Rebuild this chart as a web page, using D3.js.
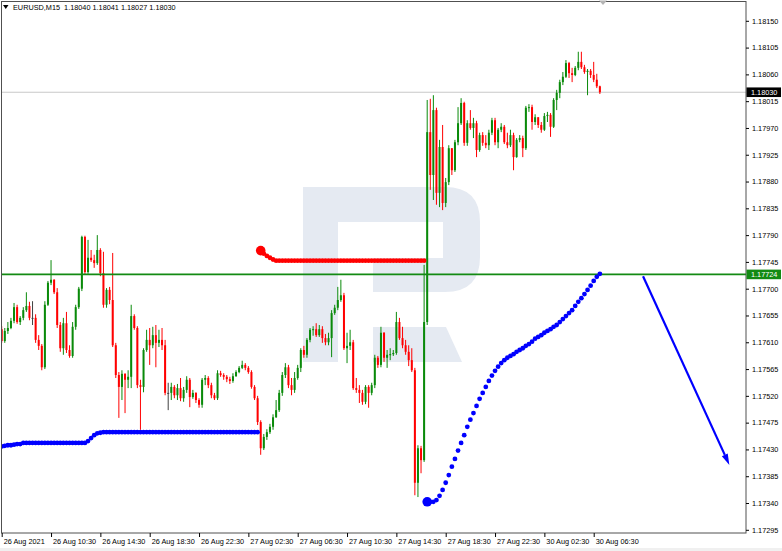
<!DOCTYPE html>
<html><head><meta charset="utf-8">
<script src="https://cdn.jsdelivr.net/npm/d3@7"></script>
<style>
html,body{margin:0;padding:0;background:#fff;}
svg{display:block;font-family:"Liberation Sans",Arial,sans-serif;}
</style></head><body>
<svg id="c" width="782" height="551"></svg>
<script>
const symbol = "EURUSD,M15";
const lastOHLC = [1.18040, 1.18041, 1.18027, 1.18030];
const firstOpen = 1.17632;
const closes = [1.17612,1.17629,1.17634,1.17646,1.17669,1.17644,1.17651,1.17664,1.17671,1.17651,
1.17651,1.17614,1.17604,1.17568,1.17673,1.17710,1.17715,1.17694,1.17639,1.17600,
1.17642,1.17597,1.17587,1.17636,1.17669,1.17700,1.17787,1.17728,1.17752,1.17748,
1.17743,1.17765,1.17726,1.17673,1.17698,1.17681,1.17605,1.17555,1.17535,1.17557,
1.17547,1.17552,1.17654,1.17634,1.17538,1.17535,1.17597,1.17614,1.17605,1.17622,
1.17609,1.17614,1.17605,1.17525,1.17525,1.17535,1.17521,1.17533,1.17516,1.17530,
1.17547,1.17518,1.17525,1.17513,1.17505,1.17547,1.17550,1.17538,1.17521,1.17516,
1.17558,1.17555,1.17552,1.17548,1.17545,1.17553,1.17560,1.17567,1.17572,1.17567,
1.17560,1.17535,1.17516,1.17476,1.17432,1.17451,1.17459,1.17468,1.17484,1.17496,
1.17525,1.17555,1.17568,1.17538,1.17530,1.17550,1.17567,1.17597,1.17589,1.17614,
1.17631,1.17632,1.17622,1.17632,1.17617,1.17610,1.17617,1.17659,1.17668,1.17681,
1.17689,1.17600,1.17604,1.17610,1.17533,1.17530,1.17525,1.17510,1.17535,1.17525,
1.17538,1.17584,1.17572,1.17626,1.17584,1.17589,1.17590,1.17592,1.17644,1.17617,
1.17605,1.17594,1.17580,1.17563,1.17374,1.17432,1.17412,1.17644,1.17963,1.17891,
1.18000,1.17861,1.17938,1.17844,1.17879,1.17936,1.17899,1.17946,1.17978,1.18012,
1.17945,1.17978,1.17970,1.17978,1.17933,1.17958,1.17945,1.17941,1.17962,1.17983,
1.17946,1.17967,1.17972,1.17946,1.17941,1.17958,1.17921,1.17950,1.17953,1.17936,
1.18004,1.18005,1.17980,1.17988,1.17975,1.17967,1.17990,1.17992,1.17972,1.18017,
1.18029,1.18047,1.18056,1.18079,1.18062,1.18059,1.18071,1.18081,1.18072,1.18064,
1.18066,1.18059,1.18051,1.18040,1.18030];
const highs = [1.17637,1.17634,1.17644,1.17651,1.17676,1.17673,1.17654,1.17669,1.17694,1.17678,
1.17679,1.17657,1.17622,1.17607,1.17679,1.17713,1.17748,1.17716,1.17701,1.17644,
1.17651,1.17661,1.17605,1.17644,1.17673,1.17703,1.17789,1.17789,1.17782,1.17765,
1.17757,1.17790,1.17768,1.17762,1.17701,1.17703,1.17760,1.17609,1.17560,1.17563,
1.17558,1.17563,1.17673,1.17657,1.17637,1.17547,1.17600,1.17631,1.17634,1.17636,
1.17639,1.17631,1.17634,1.17614,1.17542,1.17542,1.17538,1.17540,1.17550,1.17535,
1.17553,1.17550,1.17530,1.17526,1.17516,1.17550,1.17555,1.17553,1.17542,1.17525,
1.17563,1.17562,1.17558,1.17555,1.17552,1.17558,1.17563,1.17570,1.17579,1.17575,
1.17570,1.17563,1.17538,1.17520,1.17479,1.17456,1.17464,1.17473,1.17489,1.17513,
1.17530,1.17560,1.17575,1.17572,1.17550,1.17560,1.17572,1.17600,1.17604,1.17617,
1.17634,1.17637,1.17642,1.17639,1.17637,1.17624,1.17626,1.17664,1.17673,1.17703,
1.17715,1.17693,1.17626,1.17631,1.17614,1.17550,1.17538,1.17530,1.17538,1.17538,
1.17542,1.17589,1.17587,1.17636,1.17627,1.17597,1.17600,1.17597,1.17661,1.17651,
1.17636,1.17614,1.17605,1.17600,1.17567,1.17437,1.17436,1.17740,1.18017,1.18019,
1.18025,1.18004,1.17950,1.17975,1.17886,1.17941,1.17936,1.17950,1.18005,1.18020,
1.18014,1.17983,1.18000,1.17987,1.17982,1.17962,1.17963,1.17958,1.17967,1.17987,
1.17987,1.17970,1.17978,1.17975,1.17962,1.17967,1.17962,1.17953,1.17958,1.17957,
1.18007,1.18010,1.18009,1.17993,1.17988,1.17980,1.17995,1.17997,1.17995,1.18020,
1.18034,1.18051,1.18064,1.18084,1.18081,1.18071,1.18074,1.18098,1.18098,1.18076,
1.18069,1.18069,1.18081,1.18061,1.18041];
const lows = [1.17609,1.17609,1.17624,1.17632,1.17642,1.17641,1.17639,1.17647,1.17661,1.17647,
1.17639,1.17609,1.17597,1.17563,1.17565,1.17671,1.17706,1.17691,1.17634,1.17594,
1.17589,1.17592,1.17584,1.17584,1.17631,1.17666,1.17696,1.17723,1.17725,1.17745,
1.17735,1.17740,1.17721,1.17668,1.17668,1.17674,1.17602,1.17550,1.17483,1.17513,
1.17491,1.17533,1.17533,1.17631,1.17533,1.17463,1.17526,1.17594,1.17572,1.17600,
1.17568,1.17602,1.17597,1.17521,1.17496,1.17513,1.17516,1.17513,1.17511,1.17510,
1.17525,1.17501,1.17515,1.17508,1.17500,1.17500,1.17538,1.17533,1.17516,1.17513,
1.17513,1.17552,1.17547,1.17543,1.17540,1.17542,1.17552,1.17558,1.17565,1.17563,
1.17557,1.17532,1.17513,1.17471,1.17421,1.17429,1.17446,1.17456,1.17463,1.17483,
1.17493,1.17520,1.17550,1.17533,1.17521,1.17525,1.17547,1.17560,1.17584,1.17584,
1.17610,1.17621,1.17619,1.17619,1.17609,1.17605,1.17605,1.17585,1.17656,1.17664,
1.17678,1.17597,1.17575,1.17597,1.17530,1.17525,1.17508,1.17505,1.17506,1.17500,
1.17521,1.17533,1.17567,1.17568,1.17577,1.17567,1.17580,1.17587,1.17589,1.17614,
1.17600,1.17589,1.17570,1.17560,1.17353,1.17350,1.17390,1.17409,1.17639,1.17866,
1.17849,1.17841,1.17837,1.17832,1.17837,1.17874,1.17891,1.17896,1.17941,1.17975,
1.17940,1.17940,1.17967,1.17953,1.17921,1.17930,1.17940,1.17936,1.17933,1.17958,
1.17941,1.17936,1.17963,1.17943,1.17936,1.17938,1.17899,1.17920,1.17946,1.17921,
1.17933,1.17997,1.17967,1.17975,1.17970,1.17962,1.17965,1.17980,1.17955,1.17970,
1.18000,1.18020,1.18042,1.18054,1.18054,1.18047,1.18057,1.18067,1.18069,1.18061,
1.18025,1.18054,1.18047,1.18037,1.18027];
// trailing-stop indicator (blue below price, red above price), null = not drawn
const blueDots = [1.17435,1.17436,1.17437,1.17437,1.17438,1.17439,1.17439,1.17441,1.17441,1.17441,
1.17441,1.17441,1.17441,1.17441,1.17441,1.17441,1.17441,1.17441,1.17441,1.17441,
1.17441,1.17441,1.17441,1.17441,1.17441,1.17441,1.17441,1.17441,1.17444,1.17449,
1.17454,1.17457,1.17458,1.17459,1.17459,1.17459,1.17459,1.17459,1.17459,1.17459,
1.17459,1.17459,1.17459,1.17459,1.17459,1.17459,1.17459,1.17459,1.17459,1.17459,
1.17459,1.17459,1.17459,1.17459,1.17459,1.17459,1.17459,1.17459,1.17459,1.17459,
1.17459,1.17459,1.17459,1.17459,1.17459,1.17459,1.17459,1.17459,1.17459,1.17459,
1.17459,1.17459,1.17459,1.17459,1.17459,1.17459,1.17459,1.17459,1.17459,1.17459,
1.17459,1.17459,1.17459,1.17459,null,null,null,null,null,null,
null,null,null,null,null,null,null,null,null,null,
null,null,null,null,null,null,null,null,null,null,
null,null,null,null,null,null,null,null,null,null,
null,null,null,null,null,null,null,null,null,null,
null,null,null,null,null,null,null,null,1.17342,1.17342,
1.17342,1.17345,1.17352,1.17362,1.17374,1.17387,1.17401,1.17414,1.17428,1.17441,
1.17454,1.17468,1.17480,1.17491,1.17503,1.17515,1.17525,1.17535,1.17545,1.17554,
1.17562,1.17569,1.17575,1.17580,1.17584,1.17587,1.17590,1.17594,1.17597,1.17600,
1.17604,1.17607,1.17611,1.17616,1.17619,1.17622,1.17626,1.17629,1.17632,1.17636,
1.17639,1.17644,1.17649,1.17654,1.17659,1.17664,1.17671,1.17678,1.17684,1.17691,
1.17698,1.17705,1.17713,1.17720,1.17725];
const redDots = [null,null,null,null,null,null,null,null,null,null,
null,null,null,null,null,null,null,null,null,null,
null,null,null,null,null,null,null,null,null,null,
null,null,null,null,null,null,null,null,null,null,
null,null,null,null,null,null,null,null,null,null,
null,null,null,null,null,null,null,null,null,null,
null,null,null,null,null,null,null,null,null,null,
null,null,null,null,null,null,null,null,null,null,
null,null,null,null,1.17764,1.17759,1.17755,1.17752,1.17749,1.17747,
1.17747,1.17747,1.17747,1.17747,1.17747,1.17747,1.17747,1.17747,1.17747,1.17747,
1.17747,1.17747,1.17747,1.17747,1.17747,1.17747,1.17747,1.17747,1.17747,1.17747,
1.17747,1.17747,1.17747,1.17747,1.17747,1.17747,1.17747,1.17747,1.17747,1.17747,
1.17747,1.17747,1.17747,1.17747,1.17747,1.17747,1.17747,1.17747,1.17747,1.17747,
1.17747,1.17747,1.17747,1.17747,1.17747,1.17747,1.17747,1.17747,null,null,
null,null,null,null,null,null,null,null,null,null,
null,null,null,null,null,null,null,null,null,null,
null,null,null,null,null,null,null,null,null,null,
null,null,null,null,null,null,null,null,null,null,
null,null,null,null,null,null,null,null,null,null,
null,null,null,null,null];
const yTicks = [1.17295,1.17340,1.17385,1.17430,1.17475,1.17520,1.17565,1.17610,1.17655,1.17700,
1.17745,1.17790,1.17835,1.17880,1.17925,1.17970,1.18015,1.18060,1.18105,1.18150];
const xTickBars = [0,16,32,48,64,80,96,112,128,144,160,176,192];
const xTickLabels = ["26 Aug 2021","26 Aug 10:30","26 Aug 14:30","26 Aug 18:30","26 Aug 22:30",
"27 Aug 02:30","27 Aug 06:30","27 Aug 10:30","27 Aug 14:30","27 Aug 18:30","27 Aug 22:30",
"30 Aug 02:30","30 Aug 06:30"];
const levelPrice = 1.17724;
const bidPrice = 1.18030;
const arrowFrom = {bar: 208, price: 1.17721};
const arrowTo = {bar: 236, price: 1.17404};

const W = 782, H = 551;
const plot = {l: 1.5, t: 1.5, r: 746, b: 533};
const svg = d3.select("#c");
const fs = 7.3;

const x = d3.scaleLinear().domain([0, 192]).range([1.7, 593.7]);
const y = d3.scaleLinear().domain([1.17295, 1.18150]).range([529.8, 20.8]);

svg.append("rect").attr("width", W).attr("height", H).attr("fill", "#fff");
svg.append("rect").attr("x", 0).attr("y", 548).attr("width", W).attr("height", 3).attr("fill", "#f0f0f0");

svg.append("defs").append("clipPath").attr("id", "pc")
  .append("rect").attr("x", plot.l).attr("y", plot.t).attr("width", plot.r - plot.l).attr("height", plot.b - plot.t);

// watermark logo
const wm = svg.append("g").attr("fill", "#e5eaf2");
wm.append("path").attr("d", "M303,187 H445 Q480,187 480,222 V257 Q480,292 445,292 H373 V258 H443 V222 H338 V362 H303 Z");
wm.append("path").attr("d", "M373,327 H446 L462,362 H373 Z");

const g = svg.append("g").attr("clip-path", "url(#pc)");

// bid line
g.append("line").attr("x1", plot.l).attr("x2", plot.r).attr("y1", y(bidPrice)).attr("y2", y(bidPrice))
  .attr("stroke", "#c8c8c8").attr("stroke-width", 1.2);

// candles
const data = closes.map((c, i) => ({i, o: i === 0 ? firstOpen : closes[i - 1], h: highs[i], l: lows[i], c}));
const GREEN = "#0a8a0a", RED = "#ff0000", DOJI = "#404040";
const col = d => d.c > d.o ? GREEN : (d.c < d.o ? RED : DOJI);
const cg = g.append("g");
cg.selectAll("line.w").data(data).join("line").attr("class", "w")
  .attr("x1", d => x(d.i)).attr("x2", d => x(d.i))
  .attr("y1", d => y(d.h)).attr("y2", d => y(d.l))
  .attr("stroke", col).attr("stroke-width", 1);
cg.selectAll("rect.b").data(data).join("rect").attr("class", "b")
  .attr("x", d => x(d.i) - 1).attr("width", 2)
  .attr("y", d => Math.min(y(d.o), y(d.c)))
  .attr("height", d => Math.max(1, Math.abs(y(d.o) - y(d.c))))
  .attr("fill", col);

// level line
g.append("line").attr("x1", plot.l).attr("x2", plot.r).attr("y1", y(levelPrice)).attr("y2", y(levelPrice))
  .attr("stroke", "#138a13").attr("stroke-width", 1.6);

// indicator dots
function dots(arr, color) {
  const pts = arr.map((v, i) => ({i, v, first: v != null && (i === 0 ? false : arr[i - 1] == null)})).filter(d => d.v != null);
  g.append("g").selectAll("circle").data(pts).join("circle")
    .attr("cx", d => x(d.i)).attr("cy", d => y(d.v))
    .attr("r", d => d.first ? 4.8 : 2.4).attr("fill", color);
}
dots(blueDots, "#0000ff");
dots(redDots, "#ff0000");

// arrow
const ax1 = x(arrowFrom.bar), ay1 = y(arrowFrom.price), ax2 = x(arrowTo.bar), ay2 = y(arrowTo.price);
const ang = Math.atan2(ay2 - ay1, ax2 - ax1);
const hl = 11, hw = 3.2;
const bx = ax2 - hl * Math.cos(ang), by = ay2 - hl * Math.sin(ang);
svg.append("line").attr("x1", ax1).attr("y1", ay1).attr("x2", bx).attr("y2", by)
  .attr("stroke", "#0000ff").attr("stroke-width", 2.2);
svg.append("path").attr("fill", "#0000ff")
  .attr("d", `M${ax2},${ay2} L${bx - hw * Math.sin(ang)},${by + hw * Math.cos(ang)} L${bx + hw * Math.sin(ang)},${by - hw * Math.cos(ang)} Z`);

// frame
svg.append("rect").attr("x", plot.l).attr("y", plot.t).attr("width", plot.r - plot.l).attr("height", plot.b - plot.t)
  .attr("fill", "none").attr("stroke", "#505050").attr("stroke-width", 1);

// right axis
const ya = svg.append("g").attr("transform", `translate(${plot.r},0)`)
  .call(d3.axisRight(y).tickValues(yTicks).tickSize(3).tickPadding(3).tickFormat(d3.format(".5f")));
ya.select(".domain").remove();
ya.selectAll("line").attr("stroke", "#000");
ya.selectAll("text").attr("font-size", fs).attr("font-family", "Liberation Sans, Arial, sans-serif").attr("fill", "#000");

// bottom axis
const xa = svg.append("g").attr("transform", `translate(0,${plot.b})`)
  .call(d3.axisBottom(x).tickValues(xTickBars).tickSize(4).tickPadding(2).tickFormat((d, k) => xTickLabels[k]));
xa.select(".domain").remove();
xa.selectAll("line").attr("stroke", "#000");
xa.selectAll("text").attr("font-size", fs).attr("font-family", "Liberation Sans, Arial, sans-serif")
  .attr("fill", "#000").attr("text-anchor", "start").attr("dx", 1.5);

// price tags
function tag(price, fill) {
  const yy = y(price);
  svg.append("rect").attr("x", plot.r + 0.5).attr("y", yy - 4.8).attr("width", 34.5).attr("height", 9.6).attr("fill", fill);
  svg.append("text").attr("x", plot.r + 5).attr("y", yy).attr("dy", "0.35em")
    .attr("font-size", fs).attr("fill", "#fff").text(d3.format(".5f")(price));
}
tag(bidPrice, "#000");
tag(levelPrice, "#138a13");

// header
svg.append("path").attr("d", "M3,5 L8.5,5 L5.75,9 Z").attr("fill", "#000");
svg.append("text").attr("x", 13).attr("y", 10).attr("font-size", fs).attr("fill", "#000")
  .attr("xml:space", "preserve").style("white-space", "pre")
  .text(symbol + "  " + lastOHLC.map(d3.format(".5f")).join(" "));

// chart shift marker
svg.append("path").attr("d", "M599,0.5 L607,0.5 L603,5 Z").attr("fill", "#b4b4b4");
</script>
</body></html>
